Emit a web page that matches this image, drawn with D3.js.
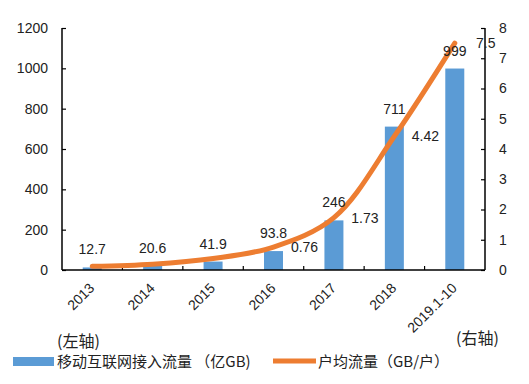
<!DOCTYPE html>
<html><head><meta charset="utf-8">
<script src="https://cdn.jsdelivr.net/npm/d3@7"></script>
<style>body{margin:0;background:#fff}svg{display:block}</style>
</head><body><svg id="c" width="529" height="384"></svg>
<script>
const categories = ["2013","2014","2015","2016","2017","2018","2019.1-10"];
const trafficValues = [12.7,20.6,41.9,93.8,246,711,999];
const perHousehold = [0.12,0.19,0.38,0.76,1.73,4.42,7.5];
const perHouseholdLabels = [null,null,null,"0.76","1.73","4.42","7.5"];
const leftTicks = [0,200,400,600,800,1000,1200];
const rightTicks = [0,1,2,3,4,5,6,7,8];

const svg = d3.select("#c");
const font = "'Liberation Sans', Arial, sans-serif";
const cjk = "'Noto Sans CJK SC', 'Liberation Sans', sans-serif";
const L = 62, R = 485, T = 28, B = 270;
const x = d3.scaleBand().domain(categories).range([L, R]);
const yL = d3.scaleLinear().domain([0,1200]).range([B, T]);
const yR = d3.scaleLinear().domain([0,8]).range([B, T]);
const blue = "#5B9BD5", orange = "#ED7D31";

// bars
svg.append("g").selectAll("rect").data(trafficValues).join("rect")
  .attr("x", (d,i) => x(categories[i]) + x.bandwidth()/2 - 9.5)
  .attr("width", 19)
  .attr("y", d => yL(d))
  .attr("height", d => B - yL(d))
  .attr("fill", blue);

// axes
const ax = svg.append("g").attr("font-family", font);
const gl = ax.append("g").attr("transform", `translate(${L},0)`)
  .call(d3.axisLeft(yL).tickValues(leftTicks).tickFormat(d3.format("d")).tickSize(-4).tickPadding(14));
const gr = ax.append("g").attr("transform", `translate(${R},0)`)
  .call(d3.axisRight(yR).tickValues(rightTicks).tickFormat(d3.format("d")).tickSize(-4).tickPadding(14));
const xTickPos = d3.range(1, categories.length).map(i => L + i * x.step());
const gb = ax.append("g").attr("transform", `translate(0,${B})`);
gb.append("line").attr("x1", L).attr("x2", R).attr("stroke", "#000").attr("stroke-width", 1.5);
gb.selectAll("line.t").data(xTickPos).join("line").attr("class","t")
  .attr("x1", d => d).attr("x2", d => d).attr("y1", 0).attr("y2", -4)
  .attr("stroke", "#000").attr("stroke-width", 1.2);
[gl, gr].forEach(g => {
  g.select(".domain").attr("stroke-width", 1.5).attr("d", `M0,${B}V${T}`);
  g.selectAll(".tick line").attr("stroke-width", 1.2);
  g.selectAll("text").attr("font-size", 14).attr("fill", "#222");
});

// category labels
gb.selectAll("text.cat").data(categories).join("text").attr("class","cat")
  .attr("transform", d => `translate(${x(d) + x.bandwidth()/2 + 3},${19}) rotate(-45)`)
  .attr("text-anchor", "end")
  .attr("font-family", font).attr("font-size", 14).attr("fill", "#222")
  .text(d => d);

// line
const line = d3.line()
  .x((d,i) => x(categories[i]) + x.bandwidth()/2)
  .y(d => yR(d))
  .curve(d3.curveCatmullRom.alpha(0.5));
svg.append("path").datum(perHousehold).attr("d", line)
  .attr("fill", "none").attr("stroke", orange).attr("stroke-width", 5)
  .attr("stroke-linecap", "round");

// bar labels
svg.append("g").selectAll("text").data(trafficValues).join("text")
  .attr("x", (d,i) => x(categories[i]) + x.bandwidth()/2)
  .attr("y", d => yL(d) - 13)
  .attr("text-anchor", "middle")
  .attr("font-family", font).attr("font-size", 14).attr("fill", "#222")
  .text(d => d);

// line labels
const lg = svg.append("g");
perHousehold.forEach((d,i) => {
  if (perHouseholdLabels[i] === null) return;
  lg.append("text")
    .attr("x", x(categories[i]) + x.bandwidth()/2 + 31)
    .attr("y", yR(d) + 5)
    .attr("text-anchor", "middle")
    .attr("font-family", font).attr("font-size", 14).attr("fill", "#222")
    .text(perHouseholdLabels[i]);
});

// legend
const leg = svg.append("g");
leg.append("text").attr("x", 57).attr("y", 347).attr("font-family", cjk).attr("font-size", 16).attr("fill", "#222").text("(左轴)");
leg.append("rect").attr("x", 13).attr("y", 357).attr("width", 41).attr("height", 9).attr("fill", blue);
leg.append("text").attr("x", 57).attr("y", 367).attr("font-family", cjk).attr("font-size", 15).attr("fill", "#222").text("移动互联网接入流量 （亿GB)");
leg.append("text").attr("x", 456).attr("y", 344).attr("font-family", cjk).attr("font-size", 16).attr("fill", "#222").text("(右轴)");
leg.append("line").attr("x1", 273).attr("x2", 316).attr("y1", 361).attr("y2", 361).attr("stroke", orange).attr("stroke-width", 5);
leg.append("text").attr("x", 318).attr("y", 367).attr("font-family", cjk).attr("font-size", 15).attr("fill", "#222").text("户均流量（GB/户）");
</script></body></html>
